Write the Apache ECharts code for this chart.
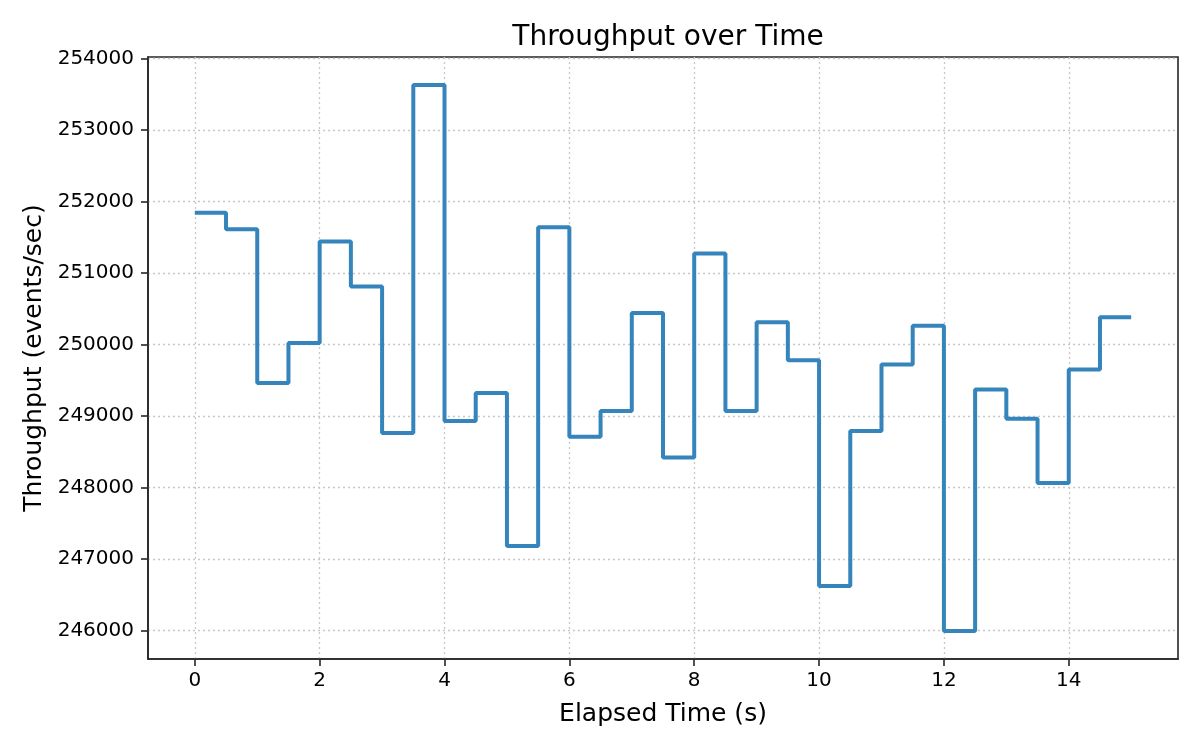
<!DOCTYPE html>
<html>
<head>
<meta charset="utf-8">
<script src="https://cdn.jsdelivr.net/npm/echarts@6/dist/echarts.min.js"></script>
<style>
  html, body { margin: 0; padding: 0; background: #fff; }
  #chart { width: 1200px; height: 750px; }
</style>
</head>
<body>
<div id="chart"></div>
<script>
    // elapsed time (s), one sample every 0.5 s; last point closes the final step
    var elapsed = [0, 0.5, 1, 1.5, 2, 2.5, 3, 3.5, 4, 4.5, 5, 5.5, 6, 6.5, 7, 7.5,
                   8, 8.5, 9, 9.5, 10, 10.5, 11, 11.5, 12, 12.5, 13, 13.5, 14, 14.5, 15];
    // throughput (events/sec)
    var throughput = [251840, 251610, 249460, 250020, 251440, 250810, 248760, 253630,
                      248930, 249320, 247180, 251640, 248710, 249070, 250440, 248420,
                      251270, 249070, 250310, 249780, 246620, 248790, 249720, 250260,
                      245990, 249370, 248960, 248060, 249650, 250380, 250380];
    var xTicks = [0, 2, 4, 6, 8, 10, 12, 14];
    var yTicks = [246000, 247000, 248000, 249000, 250000, 251000, 252000, 253000, 254000];

    var font = 'DejaVu Sans';
    var frameColor = '#262626';

    var chart = echarts.init(document.getElementById('chart'));

    var points = elapsed.map(function (t, i) { return [t, throughput[i]]; });

    chart.setOption({
        animation: false,
        backgroundColor: '#ffffff',
        title: {
            text: 'Throughput over Time',
            left: '55.25%',
            textAlign: 'center',
            top: 19,
            textStyle: {
                fontFamily: font,
                fontSize: 28,
                fontWeight: 'normal',
                color: '#000'
            }
        },
        grid: {
            left: 148,
            right: 22,
            top: 57,
            bottom: 91,
            show: true,
            borderColor: frameColor,
            borderWidth: 1.6,
            backgroundColor: 'transparent'
        },
        xAxis: {
            type: 'value',
            min: -0.75,
            max: 15.75,
            name: 'Elapsed Time (s)',
            nameLocation: 'middle',
            nameGap: 43,
            nameTextStyle: { fontFamily: font, fontSize: 25, color: '#000' },
            axisLine: { show: true, onZero: false, lineStyle: { color: frameColor, width: 1.6 } },
            axisTick: {
                show: true,
                length: 7,
                customValues: xTicks,
                lineStyle: { color: frameColor, width: 1.6 }
            },
            axisLabel: {
                customValues: xTicks,
                margin: 12,
                fontFamily: font,
                fontSize: 20,
                color: '#000'
            },
            splitLine: {
                show: true,
                lineStyle: { color: '#c8c8c8', type: [2, 3], width: 1.3 }
            }
        },
        yAxis: {
            type: 'value',
            min: 245600,
            max: 254020,
            name: 'Throughput (events/sec)',
            nameLocation: 'middle',
            nameGap: 92,
            nameTextStyle: { fontFamily: font, fontSize: 25, color: '#000' },
            axisLine: { show: true, onZero: false, lineStyle: { color: frameColor, width: 1.6 } },
            axisTick: {
                show: true,
                length: 7,
                customValues: yTicks,
                lineStyle: { color: frameColor, width: 1.6 }
            },
            axisLabel: {
                customValues: yTicks,
                margin: 14,
                fontFamily: font,
                fontSize: 20,
                color: '#000',
                formatter: function (v) { return String(v); }
            },
            splitLine: {
                show: true,
                lineStyle: { color: '#c8c8c8', type: [2, 3], width: 1.3 }
            }
        },
        series: [{
            name: 'Throughput',
            type: 'line',
            step: 'end',
            data: points,
            showSymbol: false,
            lineStyle: { color: '#3585bc', width: 4 }
        }]
    });
</script>
</body>
</html>
